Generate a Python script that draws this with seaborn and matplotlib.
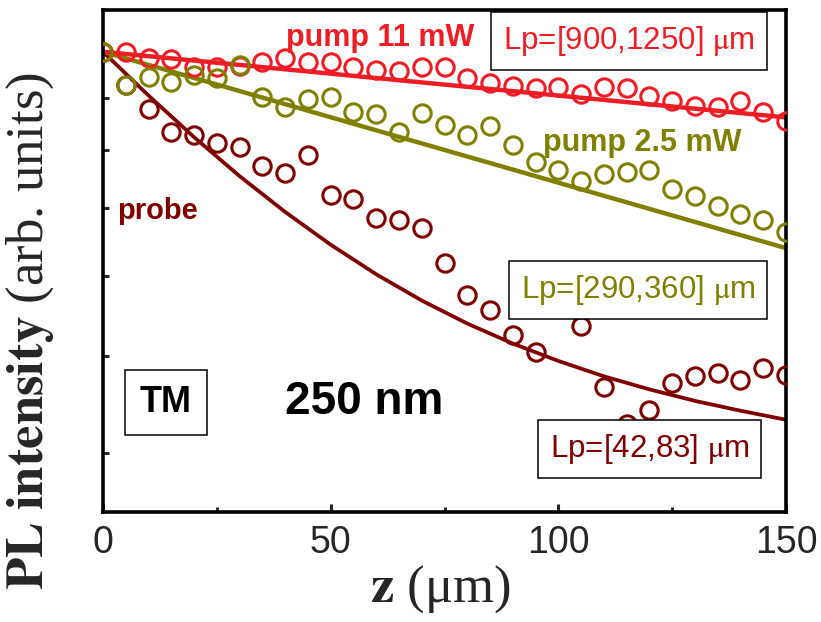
import matplotlib
matplotlib.use("Agg")
import matplotlib.pyplot as plt
import pandas as pd
import seaborn as sns

# Dados -----------------------------------------------------------------------------------------
z = [0, 5, 10, 15, 20, 25, 30, 35, 40, 45, 50, 55, 60, 65, 70, 75,
     80, 85, 90, 95, 100, 105, 110, 115, 120, 125, 130, 135, 140, 145, 150]

pump11 = [1.000, 1.000, 0.987, 0.983, 0.965, 0.967, 0.969, 0.976, 0.985, 0.976, 0.976,
          0.967, 0.960, 0.958, 0.965, 0.965, 0.943, 0.932, 0.926, 0.920, 0.922,
          0.909, 0.922, 0.920, 0.905, 0.893, 0.883, 0.881, 0.893, 0.872, 0.853]

pump25 = [1.000, 0.928, 0.945, 0.934, 0.949, 0.943, 0.971, 0.903, 0.881, 0.897, 0.901,
          0.872, 0.867, 0.832, 0.870, 0.847, 0.828, 0.845, 0.809, 0.777, 0.764,
          0.744, 0.756, 0.761, 0.764, 0.732, 0.719, 0.703, 0.690, 0.682, 0.663]

probe = [1.000, 0.928, 0.877, 0.832, 0.828, 0.813, 0.804, 0.770, 0.759, 0.791, 0.722,
         0.714, 0.685, 0.682, 0.669, 0.618, 0.574, 0.555, 0.524, 0.504, 0.581,
         0.535, 0.465, 0.428, 0.442, 0.470, 0.477, 0.481, 0.473, 0.486, 0.478]

# curvas de ajuste
fit_lin_z = [0, 150]
fit_pump11 = [1.000, 0.861]
fit_pump25 = [1.000, 0.639]
fit_probe_z = [0, 10, 20, 30, 40, 50, 60, 70, 80, 90, 100, 110, 120, 130, 140, 150]
fit_probe = [1.000, 0.905, 0.823, 0.753, 0.694, 0.644, 0.602, 0.567, 0.538, 0.514,
             0.494, 0.477, 0.463, 0.451, 0.441, 0.432]

yticks = [0.4, 0.5, 0.6, 0.7, 0.8, 0.9, 1.0]
xticks = [0, 50, 100, 150]
xticks_minor = [25, 75, 125]

RED = "#ee1c24"
OLIVE = "#808000"
MAROON = "#800000"

# Estilo ----------------------------------------------------------------------------------------
sns.set_theme(style="white")
plt.rcParams["font.family"] = ["Liberation Sans", "DejaVu Sans"]
plt.rcParams["mathtext.fontset"] = "stix"

fig = plt.figure(figsize=(8.21, 6.22), dpi=100)
ax = fig.add_axes([0.1255, 0.1768, 0.8319, 0.8071])

df = pd.DataFrame({"z": z, "pump11": pump11, "pump25": pump25, "probe": probe})
df_probe_fit = pd.DataFrame({"z": fit_probe_z, "v": fit_probe})
df_lin_fit = pd.DataFrame({"z": fit_lin_z, "p11": fit_pump11, "p25": fit_pump25})

# Curvas de ajuste
sns.lineplot(data=df_probe_fit, x="z", y="v", color=MAROON, lw=2.7, estimator=None,
             sort=False, ax=ax, zorder=2)
sns.lineplot(data=df_lin_fit, x="z", y="p25", color=OLIVE, lw=3.2, estimator=None,
             sort=False, ax=ax, zorder=2)
sns.lineplot(data=df_lin_fit, x="z", y="p11", color=RED, lw=3.2, estimator=None,
             sort=False, ax=ax, zorder=2)

# Pontos experimentais (círculos abertos)
for col, cor in [("probe", MAROON), ("pump11", RED), ("pump25", OLIVE)]:
    sns.lineplot(data=df, x="z", y=col, color=cor, linestyle="none", marker="o",
                 markersize=12.5, markerfacecolor="none", markeredgecolor=cor,
                 markeredgewidth=2.2, estimator=None, sort=False, ax=ax, zorder=3)

# Eixos -----------------------------------------------------------------------------------------
ax.set_yscale("log")
ax.set_xlim(0, 150)
ax.set_ylim(0.35, 1.10)
ax.set_yticks(yticks)
ax.yaxis.set_minor_locator(matplotlib.ticker.NullLocator())
ax.set_yticklabels([])
ax.set_xticks(xticks)
ax.set_xticks(xticks_minor, minor=True)
ax.set_xticklabels([str(t) for t in xticks])
ax.tick_params(axis="x", which="major", direction="in", length=6, width=2.2,
               labelsize=27, pad=9, bottom=True)
ax.tick_params(axis="x", which="minor", direction="in", length=3.5, width=2.2, bottom=True)
ax.tick_params(axis="y", which="major", direction="in", length=4, width=2.2, left=True)
for s in ax.spines.values():
    s.set_linewidth(2.6)
    s.set_color("black")
ax.set_xlabel("")
ax.set_ylabel("")

fig.text(0.037, 0.468, r"$\mathbf{PL\ intensity}$ (arb. units)", rotation=90,
         ha="center", va="center", fontsize=38, family="Liberation Serif")
fig.text(0.536, 0.052, r"$\mathbf{z}$ (μm)", ha="center", va="center",
         fontsize=38, family="Liberation Serif")

# Anotações -------------------------------------------------------------------------------------
caixa = dict(boxstyle="square,pad=0.38", fc="white", ec="black", lw=1.1)
ax.text(0.405, 0.944, "pump 11 mW", transform=ax.transAxes, color=RED, fontsize=22,
        fontweight="bold", ha="center", va="center")
ax.text(0.790, 0.735, "pump 2.5 mW", transform=ax.transAxes, color=OLIVE, fontsize=22,
        fontweight="bold", ha="center", va="center")
ax.text(0.080, 0.600, "probe", transform=ax.transAxes, color=MAROON, fontsize=21,
        fontweight="bold", ha="center", va="center")
ax.text(0.770, 0.939, r"Lp=[900,1250] $\mathrm{\mu}$m", transform=ax.transAxes, color=RED,
        fontsize=22.5, ha="center", va="center", bbox=caixa, zorder=5)
ax.text(0.783, 0.443, r"Lp=[290,360] $\mathrm{\mu}$m", transform=ax.transAxes, color=OLIVE,
        fontsize=22.5, ha="center", va="center", bbox=caixa, zorder=5)
ax.text(0.800, 0.126, r"Lp=[42,83] $\mathrm{\mu}$m", transform=ax.transAxes, color=MAROON,
        fontsize=22.5, ha="center", va="center", bbox=caixa, zorder=5)
ax.text(0.092, 0.218, "TM", transform=ax.transAxes, color="black", fontsize=26,
        fontweight="bold", ha="center", va="center",
        bbox=dict(boxstyle="square,pad=0.42", fc="white", ec="black", lw=1.1), zorder=5)
ax.text(0.382, 0.219, "250 nm", transform=ax.transAxes, color="black", fontsize=33,
        fontweight="bold", ha="center", va="center")

fig.savefig("out.png", dpi=100)
